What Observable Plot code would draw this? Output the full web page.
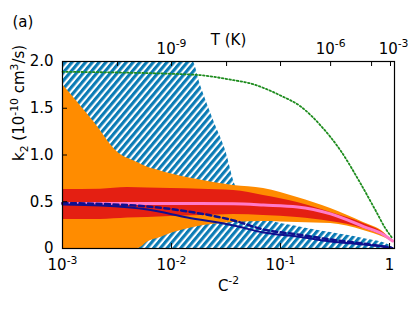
<!DOCTYPE html>
<html><head><meta charset="utf-8">
<script src="https://cdn.jsdelivr.net/npm/d3@7"></script>
<script src="https://cdn.jsdelivr.net/npm/@observablehq/plot@0.6"></script>
<style>html,body{margin:0;padding:0;background:#fff}</style>
</head><body><div id="chart"></div>
<script>
// ---- data (x = C^-2, y = k2 in 1e-10 cm^3/s) ----
const hatchX  = [0.001, 0.0156, 0.0185, 0.0243, 0.0313, 0.0386, 0.0698, 0.143, 0.288, 0.577, 1.02, 1.07];
const hatchHi = [2.0, 2.0, 1.74, 1.37, 1.05, 0.67, 0.33, 0.235, 0.17, 0.107, 0.03, 0];

const orangeX  = [0.001, 0.00192, 0.0032, 0.00488, 0.00615, 0.00792, 0.0098, 0.0159, 0.0371, 0.0698, 0.143, 0.288, 0.577, 0.881, 1.066];
const orangeHi = [1.754, 1.36, 1.03, 0.92, 0.865, 0.83, 0.80, 0.745, 0.674, 0.642, 0.545, 0.428, 0.278, 0.175, 0.08];
const orangeLo = [0, 0, 0, 0, 0.075, 0.118, 0.16, 0.225, 0.278, 0.289, 0.278, 0.267, 0.193, 0.12, 0.075];

const redX  = [0.001, 0.00223, 0.00395, 0.00602, 0.0098, 0.0185, 0.0371, 0.0698, 0.143, 0.288, 0.577, 0.881, 1.066];
const redHi = [0.631, 0.635, 0.652, 0.648, 0.642, 0.635, 0.620, 0.567, 0.492, 0.385, 0.267, 0.165, 0.08];
const redLo = [0.310, 0.310, 0.325, 0.332, 0.342, 0.353, 0.364, 0.353, 0.332, 0.289, 0.214, 0.13, 0.075];

const pinkX = [0.001, 0.0185, 0.0371, 0.0698, 0.143, 0.288, 0.577, 0.881, 1.066];
const pinkY = [0.481, 0.481, 0.478, 0.465, 0.445, 0.37, 0.235, 0.148, 0.08];

const solidX = [0.001, 0.00223, 0.00602, 0.014, 0.0371, 0.0698, 0.143, 0.288, 0.577, 1.02, 1.066];
const solidY = [0.471, 0.46, 0.417, 0.332, 0.246, 0.171, 0.128, 0.075, 0.043, 0.01, 0.005];

const dashX = [0.001, 0.00602, 0.014, 0.0371, 0.0698, 0.143, 0.288, 0.577, 1.02];
const dashY = [0.487, 0.449, 0.396, 0.30, 0.203, 0.15, 0.096, 0.053, 0.01];

const greenX = [0.001, 0.0156, 0.0371, 0.0531, 0.076, 0.1, 0.153, 0.233, 0.355, 0.542, 0.745, 0.918, 1.066];
const greenY = [1.89, 1.86, 1.80, 1.765, 1.70, 1.636, 1.519, 1.316, 1.048, 0.695, 0.406, 0.214, 0.107];

// ---- ticks ----
const bottomTicks  = [0.001, 0.01, 0.1, 1];
const bottomLabels = ["10^{-3}", "10^{-2}", "10^{-1}", "1"];
const yTicks  = [0, 0.5, 1, 1.5, 2];
const yLabels = ["0", "0.5", "1.0", "1.5", "2.0"];
// top axis: temperature T (K) positioned on the C^-2 scale
const topTickPos    = [0.0032, 0.01, 0.032, 0.1, 0.288, 0.684, 1.02];
const topLabelPos   = [0.01, 0.288, 1.088];
const topLabels     = ["10^{-9}", "10^{-6}", "10^{-3}"];

const zip = (xs, ...cols) => xs.map((x, i) => ({x, a: cols[0] && cols[0][i], b: cols[1] && cols[1][i]}));

const FS = 15;
const font = "DejaVu Sans";
const W = 415, H = 310, ML = 62, MR = 21, MT = 61, MB = 62;
const frameH = H - MT - MB, frameW = W - ML - MR, TICK = 5;

const chart = Plot.plot({
  width: W, height: H,
  marginLeft: ML, marginRight: MR, marginTop: MT, marginBottom: MB,
  x: {type: "log", domain: [0.001, 1.11]},
  y: {domain: [0, 2]},
  style: {fontFamily: font, fontSize: FS + "px", color: "#000", background: "#fff", overflow: "visible"},
  marks: [
    Plot.areaY(zip(hatchX, hatchHi), {x: "x", y: "a", fill: "url(#hatch)", curve: "monotone-x"}),
    Plot.areaY(zip(orangeX, orangeLo, orangeHi), {x: "x", y1: "a", y2: "b", fill: "#ff8c00", curve: "monotone-x"}),
    Plot.areaY(zip(redX, redLo, redHi), {x: "x", y1: "a", y2: "b", fill: "#e41f12", curve: "monotone-x"}),
    Plot.lineY(zip(pinkX, pinkY), {x: "x", y: "a", stroke: "#ff7ac8", strokeWidth: 3, curve: "monotone-x"}),
    Plot.lineY(zip(dashX, dashY), {x: "x", y: "a", stroke: "#10108f", strokeWidth: 2.5, strokeDasharray: "5,3.5", curve: "monotone-x"}),
    Plot.lineY(zip(solidX, solidY), {x: "x", y: "a", stroke: "#10108f", strokeWidth: 2, curve: "monotone-x"}),
    Plot.lineY(zip(greenX, greenY), {x: "x", y: "a", stroke: "#1e8c1e", strokeWidth: 1.8, strokeDasharray: "1.6,2.2", curve: "monotone-x"}),
    // inward ticks
    Plot.tickX(bottomTicks.slice(1), {x: d => d, insetTop: frameH - TICK, stroke: "#000"}),
    Plot.tickX(topTickPos, {x: d => d, insetBottom: frameH - TICK, stroke: "#000"}),
    Plot.tickY(yTicks.slice(1, 4), {y: d => d, insetRight: frameW - TICK, stroke: "#000"}),
    Plot.frame({stroke: "#000", strokeWidth: 1.2}),
    // bottom axis
    Plot.axisX(bottomTicks, {anchor: "bottom", tickSize: 0, tickPadding: 11, fontSize: FS,
      tickFormat: d => bottomLabels[bottomTicks.indexOf(d)],
      label: "C^{-2}", labelAnchor: "center", labelArrow: "none", labelOffset: 42}),
    // left axis
    Plot.axisY(yTicks, {anchor: "left", tickSize: 0, tickPadding: 9, fontSize: FS,
      tickFormat: d => yLabels[yTicks.indexOf(d)], label: null}),
    Plot.text(["k_{2} (10^{-10} cm^{3}/s)"], {frameAnchor: "left", rotate: -90, dx: -43, dy: 6, fontSize: FS}),
    // top axis (T)
    Plot.text(topLabelPos, {x: d => d, text: (d, i) => topLabels[i], frameAnchor: "top", lineAnchor: "bottom", dy: -8, fontSize: FS}),
    Plot.text(["T (K)"], {frameAnchor: "top", lineAnchor: "bottom", dy: -17, fontSize: FS}),
    Plot.text(["(a)"], {frameAnchor: "top-left", dx: -50, dy: -45, textAnchor: "start", fontSize: FS})
  ]
});

// hatch pattern
const ns = "http://www.w3.org/2000/svg";
const defs = document.createElementNS(ns, "defs");
defs.innerHTML = '<pattern id="hatch" patternUnits="userSpaceOnUse" width="5.2" height="5.2" patternTransform="rotate(40)">' +
  '<rect width="5.2" height="5.2" fill="#ffffff"/><rect width="3.1" height="5.2" fill="#0a7bb5"/></pattern>';
chart.insertBefore(defs, chart.firstChild);

// super/subscript rendering of "^{..}" and "_{..}"
function richText(el) {
  const s = el.textContent;
  if (!/[\^_]\{/.test(s)) return;
  el.textContent = "";
  const re = /([\^_])\{([^}]*)\}/g;
  let last = 0, m, pending = 0;
  const push = (str, kind) => {
    if (!str) return;
    const t = document.createElementNS(ns, "tspan");
    t.textContent = str;
    let dy = 0;
    if (kind === "^") { dy = -0.42 * FS; t.setAttribute("font-size", 0.72 * FS); }
    else if (kind === "_") { dy = 0.25 * FS; t.setAttribute("font-size", 0.72 * FS); }
    const total = dy + pending;
    if (total) t.setAttribute("dy", total);
    pending = -dy;
    el.appendChild(t);
  };
  while ((m = re.exec(s))) { push(s.slice(last, m.index), ""); push(m[2], m[1]); last = re.lastIndex; }
  push(s.slice(last), "");
}
chart.querySelectorAll("text").forEach(richText);

document.getElementById("chart").appendChild(chart);
</script>
</body></html>
